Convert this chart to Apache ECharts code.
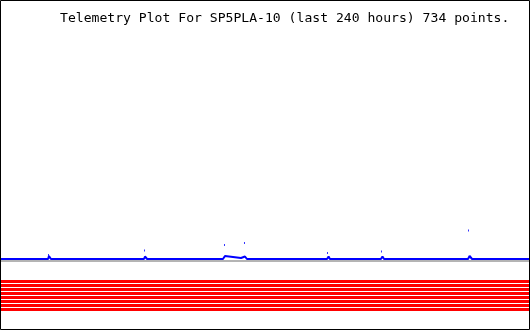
<!DOCTYPE html>
<html><head><meta charset="utf-8">
<script src="https://cdn.jsdelivr.net/npm/echarts@6/dist/echarts.min.js"></script>
<style>html,body{margin:0;padding:0;background:#fff}#c{width:530px;height:330px}</style>
</head><body><div id="c"></div>
<script>
const titleText = 'Telemetry Plot For SP5PLA-10 (last 240 hours) 734 points.';
// [hour, value]
const blueLine = [
  [0,70],[21.4,70],[21.8,73],[22.7,70],
  [65.0,70],[65.45,72.5],[66.4,70],
  [81.8,70],[82.5,71.5],[83.2,70],
  [100.9,70],[101.8,73],[102.7,71],[109.1,71],[110.0,69.5],[110.9,72.5],[111.8,70],
  [148.2,70],[148.9,72.5],[149.5,70],
  [172.7,70],[173.4,72.5],[174.1,70],
  [212.3,70],[213.0,73],[214.1,70],
  [240,70]
];
const blueDots = [[21.59,74],[65.23,78.5],[101.59,84],[110.68,86],[148.41,76],[172.95,77.5],[212.5,98.5]];
const grayLevel = 68;
const redLevels = [47.5,43.5,39.5,35.5,31.5,27.5,23.5,19.5];
const hours = [0,240];

const series = [];
series.push({type:'line',data:hours.map(h=>[h,grayLevel]),symbol:'none',lineStyle:{color:'#b4b4b4',width:2},z:1});
redLevels.forEach(v=>series.push({type:'line',data:hours.map(h=>[h,v]),symbol:'none',lineStyle:{color:'#ff0000',width:3},z:2}));
series.push({type:'line',data:blueLine,symbol:'none',lineStyle:{color:'#0000ff',width:2},z:3});
series.push({type:'scatter',data:blueDots,symbol:'rect',symbolSize:[1,2],itemStyle:{color:'#0000ff'},z:4});

const chart = echarts.init(document.getElementById('c'));
chart.setOption({
  animation:false,
  backgroundColor:'#ffffff',
  title:{text:titleText,left:55,top:7,textStyle:{fontFamily:'DejaVu Sans Mono',fontSize:13.1,fontWeight:'normal',color:'#000'}},
  grid:{left:1,right:1,top:1,bottom:1},
  xAxis:{type:'value',min:0,max:240,show:false},
  yAxis:{type:'value',min:0,max:328,show:false},
  series:series,
  graphic:[{type:'rect',z:100,shape:{x:0.5,y:0.5,width:529,height:329},style:{fill:null,stroke:'#000',lineWidth:1}}]
});
</script></body></html>
